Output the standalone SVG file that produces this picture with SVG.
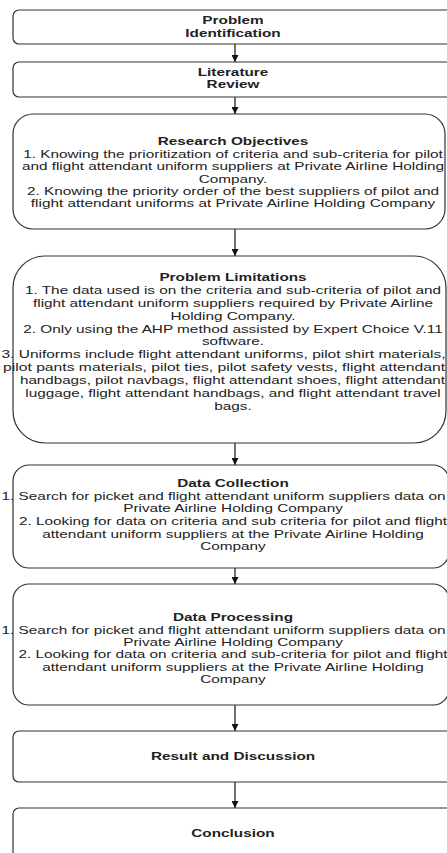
<svg xmlns="http://www.w3.org/2000/svg" width="447" height="853" viewBox="0 0 447 853">
<defs>
<marker id="ah" viewBox="0 0 10 10" refX="10" refY="5" markerWidth="7" markerHeight="7" markerUnits="userSpaceOnUse" orient="auto">
<path d="M0,0 L10,5 L0,10 z" fill="#111"/>
</marker>
<style>
.box{fill:#fff;stroke:#333;stroke-width:1.2}
.t{font-family:"Liberation Sans",Arial,sans-serif;font-size:10.5px;fill:#222;text-anchor:middle}
.s{font-family:"Liberation Sans",Arial,sans-serif;font-size:10.5px;fill:#222;text-anchor:start}
.b{font-weight:bold}
.c{stroke:#111;stroke-width:1.2;fill:none;marker-end:url(#ah)}
</style>
</defs>
<rect width="447" height="853" fill="#fff"/>
<g id="connectors">
<line class="c" x1="235" y1="44" x2="235" y2="62"/>
<line class="c" x1="235" y1="97" x2="235" y2="114"/>
<line class="c" x1="235" y1="229" x2="235" y2="256"/>
<line class="c" x1="235" y1="443" x2="235" y2="465"/>
<line class="c" x1="235" y1="568" x2="235" y2="584"/>
<line class="c" x1="235" y1="705" x2="235" y2="731"/>
<line class="c" x1="235" y1="782" x2="235" y2="808"/>
</g>
<g id="n1">
<rect class="box" x="13" y="10" width="444" height="34" rx="6"/>
<text class="t b" transform="matrix(1.46 0 0 1 233 0)"><tspan x="0" y="24.5">Problem</tspan><tspan x="0" y="37">Identification</tspan></text>
</g>
<g id="n2">
<rect class="box" x="13" y="62" width="444" height="35" rx="6"/>
<text class="t b" transform="matrix(1.46 0 0 1 233 0)"><tspan x="0" y="76.5">Literature</tspan><tspan x="0" y="88">Review</tspan></text>
</g>
<g id="n3">
<rect class="box" x="13" y="114" width="432" height="115" rx="20"/>
<text class="t" transform="matrix(1.46 0 0 1 233 0)"><tspan class="b" x="0" y="145.5">Research Objectives</tspan><tspan x="0" y="157.9">1. Knowing the prioritization of criteria and sub-criteria for pilot</tspan><tspan x="0" y="170.3">and flight attendant uniform suppliers at Private Airline Holding</tspan><tspan x="0" y="182.7">Company.</tspan><tspan x="0" y="195.1">2. Knowing the priority order of the best suppliers of pilot and</tspan><tspan x="0" y="207.5">flight attendant uniforms at Private Airline Holding Company</tspan></text>
</g>
<g id="n4">
<rect class="box" x="13" y="256" width="433" height="187" rx="32"/>
<text class="t" transform="matrix(1.46 0 0 1 233 0)"><tspan class="b" x="0" y="281">Problem Limitations</tspan><tspan x="0" y="293.9">1. The data used is on the criteria and sub-criteria of pilot and</tspan><tspan x="0" y="306.8">flight attendant uniform suppliers required by Private Airline</tspan><tspan x="0" y="319.7">Holding Company.</tspan><tspan x="0" y="332.6">2. Only using the AHP method assisted by Expert Choice V.11</tspan><tspan x="0" y="345.5">software.</tspan><tspan x="0" y="397.1">luggage, flight attendant handbags, and flight attendant travel</tspan><tspan x="0" y="410">bags.</tspan></text>
<text class="s" x="1.5" y="358.4" textLength="444" lengthAdjust="spacingAndGlyphs">3. Uniforms include flight attendant uniforms, pilot shirt materials,</text>
<text class="s" x="3" y="371.3" textLength="442" lengthAdjust="spacingAndGlyphs">pilot pants materials, pilot ties, pilot safety vests, flight attendant</text>
<text class="s" x="20" y="384.2" textLength="425" lengthAdjust="spacingAndGlyphs">handbags, pilot navbags, flight attendant shoes, flight attendant</text>
</g>
<g id="n5">
<rect class="box" x="13" y="465" width="436" height="103" rx="16"/>
<text class="t" transform="matrix(1.46 0 0 1 233 0)"><tspan class="b" x="0" y="487">Data Collection</tspan><tspan x="0" y="512.4">Private Airline Holding Company</tspan><tspan x="0" y="525.1">2. Looking for data on criteria and sub criteria for pilot and flight</tspan><tspan x="0" y="537.8">attendant uniform suppliers at the Private Airline Holding</tspan><tspan x="0" y="550.5">Company</tspan></text>
<text class="s" x="1.5" y="499.7" textLength="444" lengthAdjust="spacingAndGlyphs">1. Search for picket and flight attendant uniform suppliers data on</text>
</g>
<g id="n6">
<rect class="box" x="13" y="584" width="436" height="121" rx="16"/>
<text class="t" transform="matrix(1.46 0 0 1 233 0)"><tspan class="b" x="0" y="621">Data Processing</tspan><tspan x="0" y="646">Private Airline Holding Company</tspan><tspan x="0" y="658.5">2. Looking for data on criteria and sub-criteria for pilot and flight</tspan><tspan x="0" y="671">attendant uniform suppliers at the Private Airline Holding</tspan><tspan x="0" y="683.5">Company</tspan></text>
<text class="s" x="1.5" y="633.5" textLength="444" lengthAdjust="spacingAndGlyphs">1. Search for picket and flight attendant uniform suppliers data on</text>
</g>
<g id="n7">
<rect class="box" x="13" y="731" width="444" height="51" rx="6"/>
<text class="t b" transform="matrix(1.46 0 0 1 233 0)" x="0" y="760.5">Result and Discussion</text>
</g>
<g id="n8">
<rect class="box" x="13" y="808" width="444" height="60" rx="6"/>
<text class="t b" transform="matrix(1.46 0 0 1 233 0)" x="0" y="837">Conclusion</text>
</g>
</svg>
